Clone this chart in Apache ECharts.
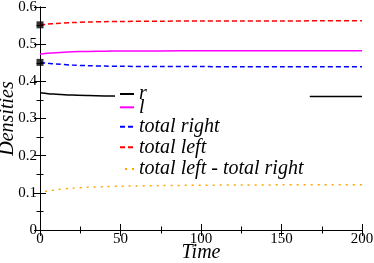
<!DOCTYPE html>
<html>
<head>
<meta charset="utf-8">
<script src="https://cdn.jsdelivr.net/npm/echarts@6/dist/echarts.min.js"></script>
<style>html,body{margin:0;padding:0;background:#fff}#c{width:374px;height:263px}</style>
</head>
<body>
<div id="c"></div>
<script>
const times      = [0, 5, 10, 20, 30, 40, 50, 75, 100, 125, 150, 175, 200];
const rVals      = [0.369, 0.3668, 0.3655, 0.363, 0.3617, 0.3608, 0.3602, 0.3595, 0.3592, 0.359, 0.359, 0.359, 0.359];
const lVals      = [0.473, 0.4755, 0.4772, 0.4793, 0.4805, 0.4811, 0.4815, 0.4819, 0.482, 0.482, 0.482, 0.482, 0.482];
const totalRight = [0.451, 0.4485, 0.4466, 0.4438, 0.4421, 0.4411, 0.4405, 0.4398, 0.4396, 0.4395, 0.4394, 0.4394, 0.4394];
const totalLeft  = [0.552, 0.554, 0.5557, 0.5581, 0.5596, 0.5605, 0.5611, 0.5619, 0.5623, 0.5625, 0.5626, 0.5627, 0.5627];
const diffVals   = [0.101, 0.105, 0.108, 0.1125, 0.115, 0.1165, 0.1178, 0.1195, 0.1205, 0.121, 0.1215, 0.1218, 0.122];
const seriesNames = ['r', 'l', 'total right', 'total left', 'total left - total right'];
const xTicks = [0, 50, 100, 150, 200];
const yTicks = [0, 0.1, 0.2, 0.3, 0.4, 0.5, 0.6];

const pairs = vals => times.map((t, i) => [t, vals[i]]);
const FONT = "'Liberation Serif', 'Times New Roman', serif";

const axisCommon = {
  axisLine: {show: true, lineStyle: {color: '#000', width: 1}},
  axisTick: {show: true, inside: true, length: 6, lineStyle: {color: '#000'}},
  minorTick: {show: true, splitNumber: 2, length: 3.5, lineStyle: {color: '#000'}},
  splitLine: {show: false}
};

const legendText = {fontFamily: FONT, fontStyle: 'italic', fontSize: 20, color: '#000', lineHeight: 20};
const legendCenters = [94, 107.3, 126.7, 147.3, 169];
const legends = seriesNames.map((n, i) => ({
  data: [n],
  orient: 'vertical',
  left: i === 0 ? 115 : 119,
  top: legendCenters[i] - 10 - (i === 0 ? 2 : 0),
  padding: i === 0 ? [2, 163, 2, 4] : 0,
  backgroundColor: i === 0 ? '#fff' : 'transparent',
  itemWidth: 14,
  itemHeight: 10,
  itemGap: 5,
  selectedMode: false,
  itemStyle: {opacity: 0},
  textStyle: legendText
}));

const lineDefs = [
  {vals: rVals, color: '#000000', type: 'solid'},
  {vals: lVals, color: '#ff00ff', type: 'solid'},
  {vals: totalRight, color: '#0000ff', type: [5, 3]},
  {vals: totalLeft, color: '#ff0000', type: [5, 3]},
  {vals: diffVals, color: '#ffa500', type: [2, 5], dashOffset: 2}
];

const series = lineDefs.map((d, i) => ({
  name: seriesNames[i],
  type: 'line',
  data: pairs(d.vals),
  symbol: 'none',
  smooth: 0.3,
  color: d.color,
  lineStyle: {color: d.color, width: 1.5, type: d.type, dashOffset: d.dashOffset || 0},
  z: 2
}));
series.push({
  name: 'markers',
  type: 'scatter',
  data: [[times[0], totalLeft[0]], [times[0], totalRight[0]]],
  symbol: 'rect',
  symbolSize: 7,
  itemStyle: {color: '#000'},
  clip: false,
  z: 3
});

const chart = echarts.init(document.getElementById('c'), null, {renderer: 'canvas'});
chart.setOption({
  backgroundColor: '#fff',
  animation: false,
  textStyle: {fontFamily: FONT},
  grid: {left: 40, right: 12, top: 7, bottom: 33, containLabel: false, outerBoundsMode: 'none'},
  legend: legends,
  xAxis: [
    Object.assign({}, axisCommon, {
      type: 'value', min: xTicks[0], max: xTicks[xTicks.length - 1], interval: xTicks[1] - xTicks[0],
      position: 'bottom',
      name: 'Time', nameLocation: 'middle', nameGap: 13, nameMoveOverlap: false,
      nameTextStyle: {fontFamily: FONT, fontStyle: 'italic', fontSize: 20, color: '#000', verticalAlign: 'top', lineHeight: 20},
      axisLabel: {fontFamily: FONT, fontSize: 15, color: '#000', margin: 2}
    }),
    Object.assign({}, axisCommon, {
      type: 'value', min: xTicks[0], max: xTicks[xTicks.length - 1], interval: xTicks[1] - xTicks[0],
      position: 'top', axisLabel: {show: false}
    })
  ],
  yAxis: [
    Object.assign({}, axisCommon, {
      type: 'value', min: yTicks[0], max: yTicks[yTicks.length - 1], interval: 0.1,
      position: 'left',
      name: 'Densities', nameLocation: 'middle', nameGap: 22, nameRotate: 90, nameMoveOverlap: false,
      nameTextStyle: {fontFamily: FONT, fontStyle: 'italic', fontSize: 20, color: '#000', lineHeight: 20},
      axisLabel: {fontFamily: FONT, fontSize: 15, color: '#000', margin: 3}
    }),
    Object.assign({}, axisCommon, {
      type: 'value', min: yTicks[0], max: yTicks[yTicks.length - 1], interval: 0.1,
      position: 'right', axisLabel: {show: false}
    })
  ],
  series: series
});
</script>
</body>
</html>
